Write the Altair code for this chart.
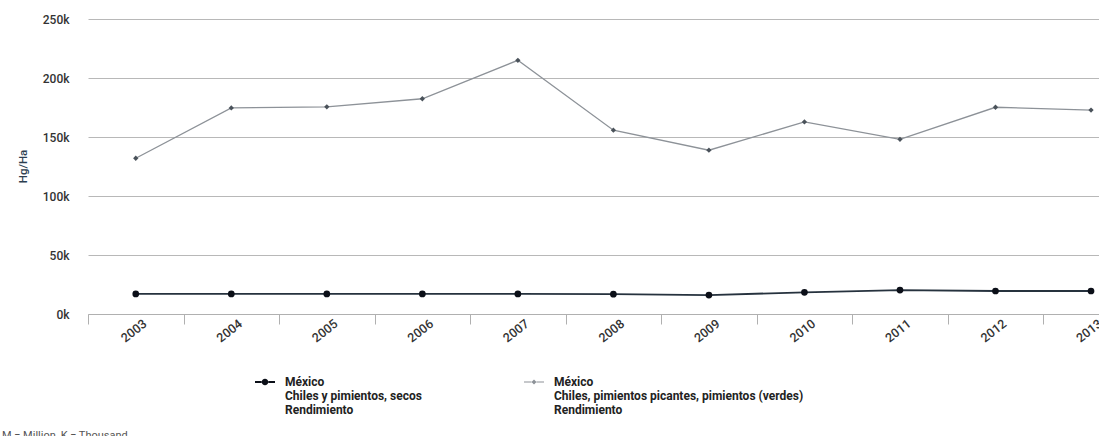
import altair as alt
import pandas as pd

years = [2003, 2004, 2005, 2006, 2007, 2008, 2009, 2010, 2011, 2012, 2013]
secos = [17000, 17000, 17000, 17000, 17000, 16800, 16000, 18400, 20300, 19500, 19500]
verdes = [132000, 174600, 175600, 182400, 215000, 155800, 138800, 162800, 148000, 175200, 172800]

s1 = "México|Chiles y pimientos, secos|Rendimiento"
s2 = "México|Chiles, pimientos picantes, pimientos (verdes)|Rendimiento"
series_names = [s1, s2]
line_colors = ["#26323e", "#8d9298"]
point_colors = ["#0b0f18", "#4a525a"]

rows = []
for y, a, b in zip(years, secos, verdes):
    rows.append({"year": y, "value": a, "series": s1})
    rows.append({"year": y, "value": b, "series": s2})
df = pd.DataFrame(rows)

tick_vals = [y - 0.5 for y in years]

x_enc = alt.X("year:Q",
              scale=alt.Scale(domain=[2002.5, 2013.0836], nice=False, zero=False),
              axis=alt.Axis(values=tick_vals, labelExpr="format(datum.value + 0.5, 'd')",
                            title=None, grid=False, domainColor="#b0b0b0", tickColor="#b0b0b0",
                            tickSize=10, labelAngle=-38, labelAlign="right", labelBaseline="top",
                            labelOffset=53, labelPadding=-7, labelFontSize=12.5, labelColor="#333333",
                            labelFont="Roboto", labelFontWeight=500))
y_enc = alt.Y("value:Q",
              scale=alt.Scale(domain=[0, 250000], nice=False),
              axis=alt.Axis(values=[0, 50000, 100000, 150000, 200000, 250000],
                            labelExpr="format(datum.value / 1000, 'd') + 'k'",
                            title="Hg/Ha", titleColor="#2c3e50", titleFontSize=11.5,
                            titleFontWeight=500, titleFont="Roboto",
                            titleX=-60, titleY=147, titleAngle=-90,
                            grid=True, gridColor="#b8b8b8", gridWidth=1,
                            ticks=False, domain=False, labelPadding=19,
                            labelFontSize=12, labelColor="#333333", labelFont="Roboto",
                            labelFontWeight=500))

base = alt.Chart(df)

layers = []
for name, lc, pc, shp, sz, lw in [(s1, line_colors[0], point_colors[0], "circle", 45, 1.8),
                                  (s2, line_colors[1], point_colors[1], "diamond", 28, 1.3)]:
    sub = base.transform_filter(alt.datum.series == name)
    layers.append(sub.mark_line(color=lc, strokeWidth=lw).encode(x=x_enc, y=y_enc))
    layers.append(sub.mark_point(color=pc, filled=True, opacity=1, shape=shp, size=sz).encode(x=x_enc, y=y_enc))

shape_paths = [
    "M-1,-0.1H-0.3V0.1H-1Z M0.3,-0.1H1V0.1H0.3Z M-0.33,0A0.33,0.33 0 1,0 0.33,0A0.33,0.33 0 1,0 -0.33,0Z",
    "M-1,-0.06H-0.25V0.06H-1Z M0.25,-0.06H1V0.06H0.25Z M0,-0.25L0.25,0L0,0.25L-0.25,0Z",
]

legend = alt.Legend(title=None, orient="none", legendX=167, legendY=353, direction="horizontal",
                    labelExpr="split(datum.label, '|')", labelLimit=500, labelFontSize=12,
                    labelFontWeight="bold", labelColor="#222222", labelFont="Roboto",
                    symbolSize=400, symbolOpacity=1, labelOffset=10, columnPadding=102,
                    symbolStrokeWidth=0)

legend_layer = base.mark_point(filled=True, opacity=0, size=400).encode(
    x=x_enc, y=y_enc,
    color=alt.Color("series:N", scale=alt.Scale(domain=series_names, range=[point_colors[0], line_colors[1]]),
                    legend=legend, title=None),
    shape=alt.Shape("series:N", scale=alt.Scale(domain=series_names, range=shape_paths),
                    legend=legend, title=None),
)

foot = alt.Chart(pd.DataFrame({"t": ["M = Million, K = Thousand"]})).mark_text(
    align="left", baseline="alphabetic", fontSize=11, color="#555555", font="Roboto"
).encode(text="t:N", x=alt.value(-86), y=alt.value(420))

chart = alt.layer(*layers, legend_layer, foot).properties(
    width=1011, height=295,
    autosize=alt.AutoSizeParams(type="none"),
    padding={"left": 88, "top": 19, "right": 0, "bottom": 122},
).configure_view(stroke=None)

chart.save("out.html", embed_options={"renderer": "svg", "actions": False})
